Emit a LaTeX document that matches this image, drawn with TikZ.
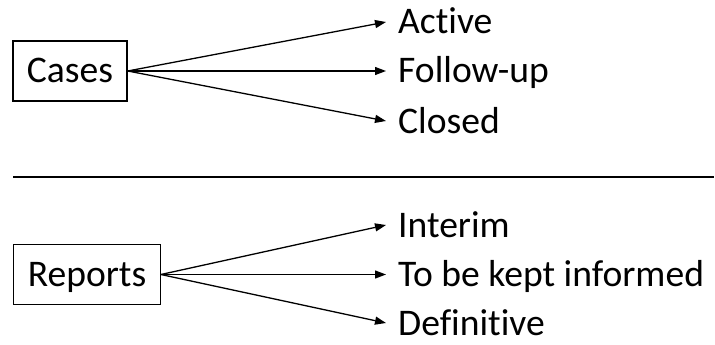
\documentclass[tikz,border=0pt]{standalone}
\usepackage{fontspec}
\setmainfont{Carlito}[Ligatures={NoCommon,NoContextual}]
\usepackage{tikz}
\usetikzlibrary{positioning,arrows.meta}

\tikzset{
	group/.style={draw, line width=1.3pt, minimum height=60pt, inner xsep=14pt, inner ysep=0pt, text height=24pt, text depth=0pt},
	state/.style={anchor=west, inner xsep=12pt, inner ysep=0pt, text height=24pt, text depth=0pt},
	fan/.style={-{Triangle[length=11pt,width=8pt]}, line width=1.3pt}
}

\begin{document}
\begin{tikzpicture}[x=1pt, y=-1pt, font=\fontsize{37.6}{45}\selectfont]
	\useasboundingbox (0,0) rectangle (715,345);
	% cases
	\node[group] (cases) at (70,71) {Cases};
	\node[state] (active) at (386,22) {Active};
	\node[state] (followup) at (386,71) {Follow-up};
	\node[state] (closed) at (386,121) {Closed};
	\foreach \s in {active,followup,closed} {
		\draw[fan] (cases.east) -- (\s.west);
	}
	% separator
	\draw[line width=1.5pt] (13,177) -- (714,177);
	% reports
	\node[group] (reports) at (87,274.5) {Reports};
	\node[state] (interim) at (386,225) {Interim};
	\node[state] (informed) at (386,274.5) {To be kept informed};
	\node[state] (definitive) at (386,323) {Definitive};
	\foreach \s in {interim,informed,definitive} {
		\draw[fan] (reports.east) -- (\s.west);
	}
\end{tikzpicture}
\end{document}
